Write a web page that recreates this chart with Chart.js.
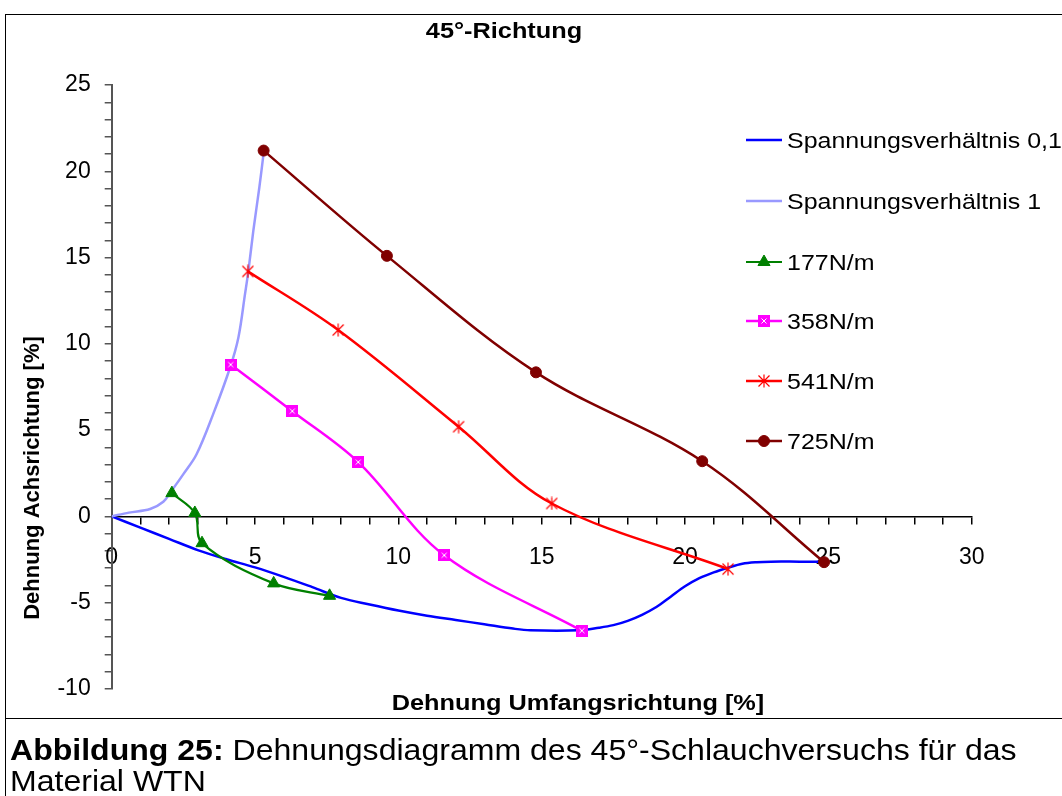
<!DOCTYPE html>
<html>
<head>
<meta charset="utf-8">
<script src="https://cdn.jsdelivr.net/npm/chart.js@4.4.1/dist/chart.umd.min.js"></script>
<style>
  html, body { margin: 0; padding: 0; background: #fff; }
  body { width: 1062px; height: 796px; position: relative; overflow: hidden;
         font-family: "Liberation Sans", Arial, sans-serif; color: #000; }
  #frame { position: absolute; left: 5px; top: 14px; width: 1100px; height: 800px;
           border-left: 1.5px solid #000; border-top: 1.5px solid #000; }
  #sep { position: absolute; left: 5px; top: 718px; width: 1100px; border-top: 1.5px solid #000; }
  #chart { position: absolute; left: 0; top: 0; }
  #caption { position: absolute; left: 10px; top: 735px; font-size: 29px; line-height: 30.5px;
             transform: scaleX(1.105); transform-origin: 0 0; white-space: nowrap; }
</style>
</head>
<body>
<div id="frame"></div>
<div id="sep"></div>
<canvas id="chart" width="1062" height="796"></canvas>
<div id="caption"><b>Abbildung 25:</b> Dehnungsdiagramm des 45°-Schlauchversuchs für das<br>Material WTN</div>
<script>
// ---- chart texts ----
const chartTitle = '45°-Richtung';
const xTitle = 'Dehnung Umfangsrichtung [%]';
const yTitle = 'Dehnung Achsrichtung [%]';
const seriesNames = ['Spannungsverhältnis 0,1', 'Spannungsverhältnis 1', '177N/m', '358N/m', '541N/m', '725N/m'];

// ---- axis ranges / tick spacing ----
const xRange = [0, 30];
const yRange = [-10, 25];
const minorStep = 1;
const labelEvery = 5;

// ---- measured strains [%]: x = Umfangsrichtung, y = Achsrichtung ----
const ratio01X = [0, 1, 2, 3, 4, 5, 6, 7, 8, 9, 10, 11, 12, 13, 14, 14.6, 16.3, 17, 17.5, 18, 18.5, 19, 19.5, 20, 20.5, 21, 21.5, 22, 22.5, 23, 24, 24.9];
const ratio01Y = [0, -0.65, -1.3, -1.95, -2.48, -2.95, -3.5, -4.1, -4.72, -5.1, -5.45, -5.75, -6.0, -6.25, -6.5, -6.6, -6.6, -6.45, -6.3, -6.05, -5.7, -5.25, -4.65, -4.05, -3.58, -3.24, -2.97, -2.74, -2.65, -2.62, -2.62, -2.62];

const ratio1X = [0, 0.6, 1.34, 1.8, 2.09, 2.5, 2.96, 3.54, 4.13, 4.42, 4.65, 4.77, 4.94, 5.15, 5.31];
const ratio1Y = [0, 0.22, 0.43, 0.85, 1.49, 2.45, 3.6, 5.93, 8.63, 10.37, 12.88, 14.24, 16.55, 19.06, 21.2];

const load177X = [2.1, 2.9, 3.15, 5.65, 7.6];
const load177Y = [1.35, 0.2, -1.55, -3.88, -4.6];

const load358X = [4.15, 6.3, 8.6, 11.6, 16.4];
const load358Y = [8.8, 6.1, 3.15, -2.25, -6.62];

const load541X = [4.75, 7.9, 12.1, 15.35, 21.5];
const load541Y = [14.2, 10.8, 5.2, 0.75, -3.05];

const load725X = [5.3, 9.6, 14.8, 20.6, 24.85];
const load725Y = [21.2, 15.1, 8.35, 3.2, -2.65];

// ---- styling ----
const FONT = '"Liberation Sans", Arial, sans-serif';
const colors = ['#0000FF', '#9999FF', '#008000', '#FF00FF', '#FF0000', '#800000'];

function pairs(xs, ys) { return xs.map((x, i) => ({ x: x, y: ys[i] })); }

// magenta square with a white cross
function squareMarker() {
  const c = document.createElement('canvas');
  c.width = 12; c.height = 12;
  const g = c.getContext('2d');
  g.fillStyle = '#FF00FF';
  g.fillRect(0, 0, 12, 12);
  g.strokeStyle = '#FFFFFF';
  g.lineWidth = 1;
  g.beginPath();
  g.moveTo(3.5, 3.5); g.lineTo(8.5, 8.5);
  g.moveTo(8.5, 3.5); g.lineTo(3.5, 8.5);
  g.stroke();
  return c;
}
// thin red asterisk
function asteriskMarker() {
  const c = document.createElement('canvas');
  c.width = 14; c.height = 14;
  const g = c.getContext('2d');
  g.strokeStyle = '#FF0000';
  g.lineWidth = 1.2;
  g.beginPath();
  g.moveTo(1.5, 1.5); g.lineTo(12.5, 12.5);
  g.moveTo(12.5, 1.5); g.lineTo(1.5, 12.5);
  g.moveTo(7, 0.5); g.lineTo(7, 13.5);
  g.stroke();
  return c;
}

const markers = [
  { style: 'circle', radius: 0 },
  { style: 'circle', radius: 0 },
  { style: 'triangle', radius: 7 },
  { style: squareMarker(), radius: 6 },
  { style: asteriskMarker(), radius: 6 },
  { style: 'circle', radius: 5.5 }
];

const seriesData = [
  pairs(ratio01X, ratio01Y),
  pairs(ratio1X, ratio1Y),
  pairs(load177X, load177Y),
  pairs(load358X, load358Y),
  pairs(load541X, load541Y),
  pairs(load725X, load725Y)
];

const datasets = seriesData.map((d, i) => ({
  label: seriesNames[i],
  data: d,
  showLine: true,
  borderColor: colors[i],
  backgroundColor: colors[i],
  borderWidth: i === 2 ? 2.2 : 2.5,
  tension: 0.35,
  pointStyle: markers[i].style,
  pointRadius: markers[i].radius,
  pointHoverRadius: markers[i].radius,
  pointBorderWidth: 1,
  pointBorderColor: colors[i],
  pointBackgroundColor: colors[i],
  order: seriesNames.length - i
}));

function stretchedText(ctx, text, x, y, font, sx, align) {
  ctx.save();
  ctx.translate(x, y);
  ctx.scale(sx, 1);
  ctx.font = font;
  ctx.textAlign = align;
  ctx.textBaseline = 'alphabetic';
  ctx.fillText(text, 0, 0);
  ctx.restore();
}

// titles and the legend sit inside/around the plot, drawn after the datasets
const annotations = {
  id: 'annotations',
  afterDraw(chart) {
    const ctx = chart.ctx;
    ctx.save();
    ctx.fillStyle = '#000';
    stretchedText(ctx, chartTitle, 504, 37.5, 'bold 22px ' + FONT, 1.15, 'center');
    stretchedText(ctx, xTitle, 578, 709.5, 'bold 22px ' + FONT, 1.15, 'center');

    ctx.save();
    ctx.translate(39, 478);
    ctx.rotate(-Math.PI / 2);
    ctx.font = 'bold 22px ' + FONT;
    ctx.textAlign = 'center';
    ctx.textBaseline = 'alphabetic';
    ctx.fillText(yTitle, 0, 0);
    ctx.restore();

    const rowY = [140, 201, 262, 321, 381, 441];
    chart.data.datasets.forEach((ds, i) => {
      const y = rowY[i];
      ctx.strokeStyle = ds.borderColor;
      ctx.lineWidth = ds.borderWidth;
      ctx.beginPath();
      ctx.moveTo(746, y);
      ctx.lineTo(782, y);
      ctx.stroke();
      if (ds.pointRadius > 0) {
        ctx.fillStyle = ds.pointBackgroundColor;
        ctx.strokeStyle = ds.pointBorderColor;
        ctx.lineWidth = 1;
        Chart.helpers.drawPoint(ctx, { pointStyle: ds.pointStyle, radius: ds.pointRadius, borderWidth: 1, rotation: 0 }, 764, y);
      }
      ctx.fillStyle = '#000';
      stretchedText(ctx, ds.label, 787, y + 8, '22px ' + FONT, 1.135, 'left');
    });
    ctx.restore();
  }
};

const tickFont = { family: FONT, size: 23 };
const every5 = v => (v % labelEvery === 0 ? String(v) : '');

new Chart(document.getElementById('chart'), {
  type: 'scatter',
  data: { datasets: datasets },
  options: {
    responsive: false,
    animation: false,
    devicePixelRatio: 1,
    layout: { padding: { left: 0, top: 85, right: 90.3, bottom: 107 } },
    plugins: { legend: { display: false }, title: { display: false }, tooltip: { enabled: false } },
    scales: {
      x: {
        type: 'linear', min: xRange[0], max: xRange[1], position: { y: 0 },
        border: { color: '#000', width: 1.5 },
        grid: { drawOnChartArea: false, drawTicks: true, tickLength: 7, color: '#000', lineWidth: 1.5 },
        ticks: { stepSize: minorStep, autoSkip: false, maxRotation: 0, padding: 20, color: '#000', font: tickFont, callback: every5 }
      },
      y: {
        type: 'linear', min: yRange[0], max: yRange[1], position: 'left',
        afterFit(scale) { scale.width = 111.7; },
        border: { color: '#555', width: 2 },
        grid: { drawOnChartArea: false, drawTicks: true, tickLength: 7, color: '#555', lineWidth: 1.5 },
        ticks: { stepSize: minorStep, autoSkip: false, padding: 14, color: '#000', font: tickFont, callback: every5 }
      }
    }
  },
  plugins: [annotations]
});
</script>
</body>
</html>
